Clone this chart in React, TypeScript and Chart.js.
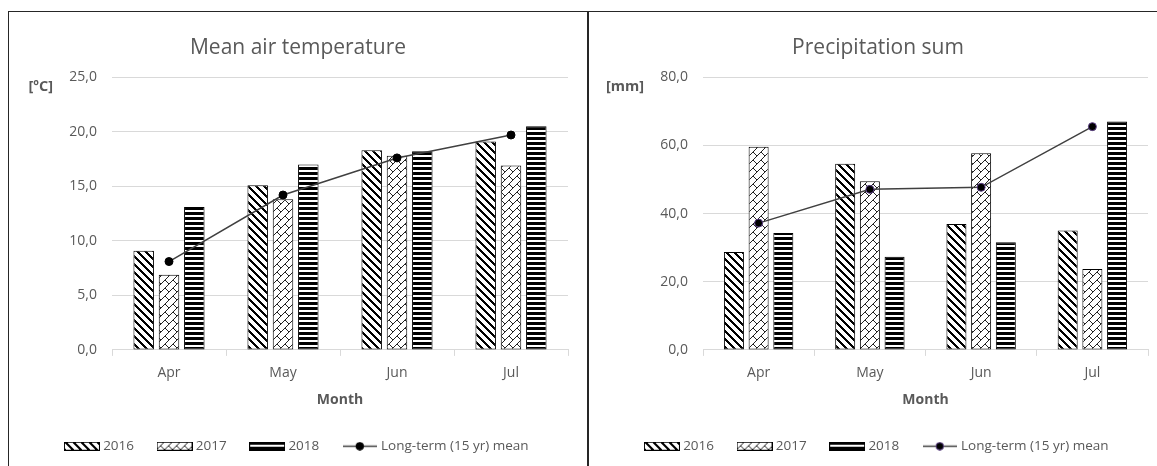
import React, { useEffect, useRef } from 'react';
import { Chart, registerables } from 'chart.js';

Chart.register(...registerables);

const FONT = '"Open Sans", sans-serif';
const TEXT = '#595959';
const GRID = '#d9d9d9';

// ---- data ----
const months = ['Apr', 'May', 'Jun', 'Jul'];
const seriesLabels = ['2016', '2017', '2018', 'Long-term (15 yr) mean'];

const temp2016 = [9.1, 15.1, 18.3, 19.1];
const temp2017 = [6.9, 13.8, 17.8, 16.9];
const temp2018 = [13.1, 17.0, 18.2, 20.5];
const tempMean = [8.1, 14.2, 17.6, 19.7];

const prec2016 = [28.7, 54.6, 36.9, 35.0];
const prec2017 = [59.6, 49.5, 57.7, 23.7];
const prec2018 = [34.3, 27.3, 31.6, 67.0];
const precMean = [37.2, 47.1, 47.7, 65.5];

const tempAxis = { max: 25, step: 5 };
const precAxis = { max: 80, step: 20 };

// ---- patterns ----
function tile(w: number, h: number, draw: (x: CanvasRenderingContext2D) => void) {
  const c = document.createElement('canvas');
  c.width = w;
  c.height = h;
  const x = c.getContext('2d')!;
  x.fillStyle = '#ffffff';
  x.fillRect(0, 0, w, h);
  x.fillStyle = '#000000';
  draw(x);
  return c;
}

function diagTile() {
  return tile(8, 8, (x) => {
    for (let yy = 0; yy < 8; yy++)
      for (let xx = 0; xx < 8; xx++)
        if ((((xx - yy) % 8) + 8) % 8 < 3) x.fillRect(xx, yy, 1, 1);
  });
}

function brickTile() {
  const bits = [0x01, 0x02, 0x04, 0x08, 0x18, 0x24, 0x42, 0x81];
  return tile(8, 8, (x) => {
    x.fillStyle = '#222222';
    for (let yy = 0; yy < 8; yy++)
      for (let xx = 0; xx < 8; xx++)
        if (bits[yy] & (1 << (7 - xx))) x.fillRect(xx, yy, 1, 1);
  });
}

function horizTile() {
  return tile(4, 5, (x) => {
    x.fillRect(0, 0, 4, 3);
  });
}

function boxSymbol(p: CanvasPattern) {
  const c = document.createElement('canvas');
  c.width = 36;
  c.height = 9;
  const x = c.getContext('2d')!;
  x.fillStyle = p;
  x.fillRect(0, 0, 36, 9);
  x.strokeStyle = '#000';
  x.lineWidth = 1;
  x.strokeRect(0.5, 0.5, 35, 8);
  return c;
}

function lineSymbol(pointBorder: string) {
  const c = document.createElement('canvas');
  c.width = 34;
  c.height = 9;
  const x = c.getContext('2d')!;
  x.strokeStyle = '#404040';
  x.lineWidth = 1.5;
  x.beginPath();
  x.moveTo(0, 4.5);
  x.lineTo(34, 4.5);
  x.stroke();
  x.beginPath();
  x.arc(17, 4.5, 3.8, 0, Math.PI * 2);
  x.fillStyle = '#000';
  x.fill();
  x.strokeStyle = pointBorder;
  x.lineWidth = 1;
  x.stroke();
  return c;
}

const unitPlugin = {
  id: 'unitLabel',
  afterDraw(chart: any, _args: any, opts: any) {
    const { ctx, chartArea } = chart;
    ctx.save();
    ctx.font = `bold 14.5px ${FONT}`;
    ctx.fillStyle = TEXT;
    ctx.textAlign = 'right';
    ctx.textBaseline = 'middle';
    ctx.fillText(opts.text, chartArea.left - 59, chartArea.top + 10);
    ctx.restore();
  },
};

type PanelProps = {
  left: number;
  title: string;
  unit: string;
  d2016: number[];
  d2017: number[];
  d2018: number[];
  mean: number[];
  axis: { max: number; step: number };
  axisWidth: number;
  pointBorder: string;
};

function Panel(props: PanelProps) {
  const ref = useRef<HTMLCanvasElement>(null);
  useEffect(() => {
    const canvas = ref.current!;
    const ctx = canvas.getContext('2d')!;
    const p1 = ctx.createPattern(diagTile(), 'repeat')!;
    const p2 = ctx.createPattern(brickTile(), 'repeat')!;
    const p3 = ctx.createPattern(horizTile(), 'repeat')!;
    const syms = [boxSymbol(p1), boxSymbol(p2), boxSymbol(p3), lineSymbol(props.pointBorder)];

    const barCommon = {
      type: 'bar' as const,
      borderColor: '#000000',
      borderWidth: 1,
      borderSkipped: false,
      categoryPercentage: 0.666,
      barPercentage: 0.81,
      order: 2,
    };

    const chart = new Chart(ctx, {
      type: 'bar',
      data: {
        labels: months,
        datasets: [
          { ...barCommon, label: seriesLabels[0], data: props.d2016, backgroundColor: p1 },
          { ...barCommon, label: seriesLabels[1], data: props.d2017, backgroundColor: p2 },
          { ...barCommon, label: seriesLabels[2], data: props.d2018, backgroundColor: p3 },
          {
            type: 'line',
            label: seriesLabels[3],
            data: props.mean,
            borderColor: '#404040',
            borderWidth: 1.5,
            pointRadius: 4,
            pointBackgroundColor: '#000000',
            pointBorderColor: props.pointBorder,
            pointBorderWidth: 1,
            order: 0,
          } as any,
        ],
      },
      options: {
        responsive: false,
        animation: false,
        layout: { padding: { left: 19, right: 19, top: 0, bottom: 4 } },
        font: { family: FONT },
        scales: {
          x: {
            grid: {
              display: true,
              drawOnChartArea: false,
              drawTicks: true,
              tickLength: 6,
              color: GRID,
            },
            border: { display: true, color: GRID },
            ticks: { color: TEXT, font: { family: FONT, size: 14 }, padding: 9 },
            title: {
              display: true,
              text: 'Month',
              color: TEXT,
              font: { family: FONT, size: 14, weight: 'bold' },
              padding: { top: 1, bottom: 5 },
            },
          },
          y: {
            min: 0,
            max: props.axis.max,
            ticks: {
              stepSize: props.axis.step,
              color: TEXT,
              font: { family: FONT, size: 14 },
              padding: 15,
              callback: (v: any) => Number(v).toFixed(1).replace('.', ','),
            },
            grid: { color: GRID, drawTicks: false, lineWidth: 1 },
            border: { display: false },
            afterFit: (s: any) => {
              s.width = props.axisWidth;
            },
          },
        },
        plugins: {
          title: {
            display: true,
            text: props.title,
            color: TEXT,
            font: { family: FONT, size: 21, weight: 'normal' },
            padding: { top: 23, bottom: 17 },
          },
          legend: {
            position: 'bottom',
            labels: {
              usePointStyle: true,
              pointStyleWidth: 29,
              boxHeight: 9,
              padding: 26,
              color: TEXT,
              font: { family: FONT, size: 13.5 },
              generateLabels: () =>
                seriesLabels.map((t, i) => ({
                  text: t,
                  pointStyle: syms[i],
                  fillStyle: '#ffffff',
                  strokeStyle: '#000000',
                  lineWidth: 0,
                  hidden: false,
                  datasetIndex: i,
                  fontColor: TEXT,
                })),
            },
          },
          tooltip: { enabled: false },
          unitLabel: { text: props.unit },
        } as any,
      },
      plugins: [unitPlugin as any],
    } as any);
    return () => chart.destroy();
  }, []);

  return (
    <div
      style={{
        position: 'absolute',
        left: props.left,
        top: 11,
        width: 578,
        height: 470,
        border: '1px solid #262626',
        background: '#fff',
      }}
    >
      <canvas ref={ref} width={578} height={455} style={{ display: 'block' }} />
    </div>
  );
}

export default function App() {
  return (
    <div
      style={{
        position: 'fixed',
        left: 0,
        top: 0,
        width: 1157,
        height: 466,
        overflow: 'hidden',
        background: '#ffffff',
      }}
    >
      <Panel
        left={8}
        title="Mean air temperature"
        unit="[ºC]"
        d2016={temp2016}
        d2017={temp2017}
        d2018={temp2018}
        mean={tempMean}
        axis={tempAxis}
        axisWidth={84}
        pointBorder="#000000"
      />
      <Panel
        left={588}
        title="Precipitation sum"
        unit="[mm]"
        d2016={prec2016}
        d2017={prec2017}
        d2018={prec2018}
        mean={precMean}
        axis={precAxis}
        axisWidth={95}
        pointBorder="#5b3f86"
      />
    </div>
  );
}
